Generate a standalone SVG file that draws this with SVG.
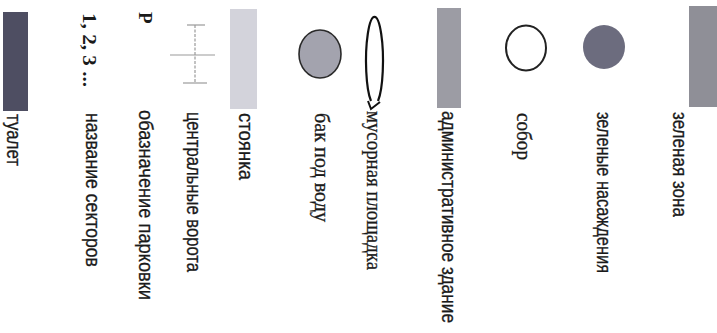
<svg xmlns="http://www.w3.org/2000/svg" width="717" height="333" viewBox="0 0 717 333">
<style>
.t{font-family:"Liberation Sans",Arial,sans-serif;font-size:20px;fill:#1a1a1a;stroke:#1a1a1a;stroke-width:0.3}
.s{font-family:"Liberation Serif","Times New Roman",serif;font-size:20px;fill:#1a1a1a;stroke:#1a1a1a;stroke-width:0.3}
.b{font-family:"Liberation Serif","Times New Roman",serif;font-size:19px;font-weight:bold;fill:#1a1a1a}
.ln{stroke:#9a9a9a;stroke-width:1.2;fill:none}
</style>
<rect width="717" height="333" fill="#ffffff"/>

<g id="green-zone">
<rect x="689" y="6" width="28" height="101" fill="#8f8f97"/>
<text class="t" transform="translate(673,112) rotate(90)" textLength="105" lengthAdjust="spacingAndGlyphs">зеленая зона</text>
</g>

<g id="green-plantings">
<ellipse cx="604" cy="47" rx="21" ry="22" fill="#6c6c7e"/>
<text class="t" transform="translate(597,112) rotate(90)" textLength="161" lengthAdjust="spacingAndGlyphs">зеленые насаждения</text>
</g>

<g id="cathedral">
<ellipse cx="526" cy="48" rx="20" ry="22.5" fill="#ffffff" stroke="#222" stroke-width="2"/>
<text class="s" transform="translate(517,113) rotate(90)" textLength="47" lengthAdjust="spacingAndGlyphs">собор</text>
</g>

<g id="admin-building">
<rect x="437" y="8" width="24" height="100" fill="#9c9ca4"/>
<text class="t" transform="translate(442,111) rotate(90)" textLength="212" lengthAdjust="spacingAndGlyphs">административное здание</text>
</g>

<g id="garbage-site">
<path d="M371,101 A8.5,44 0 1 1 378,101" fill="none" stroke="#111" stroke-width="2.2"/>
<polyline points="368,101 371,109 380,102" fill="none" stroke="#111" stroke-width="2"/>
<text class="s" transform="translate(367,111) rotate(90)" textLength="159" lengthAdjust="spacingAndGlyphs">мусорная площадка</text>
</g>

<g id="water-tank">
<ellipse cx="320" cy="54" rx="21" ry="24" fill="#a3a3ae" stroke="#2a2a2a" stroke-width="1.6"/>
<text class="s" transform="translate(315,113) rotate(90)" textLength="109" lengthAdjust="spacingAndGlyphs">бак под воду</text>
</g>

<g id="parking">
<rect x="230" y="9" width="27" height="100" fill="#d3d3db"/>
<text class="t" transform="translate(239,113) rotate(90)" textLength="67" lengthAdjust="spacingAndGlyphs">стоянка</text>
</g>

<g id="main-gate">
<line class="ln" x1="195" y1="25" x2="195" y2="83" stroke-dasharray="3 1.5"/>
<line class="ln" x1="187" y1="25" x2="205" y2="25"/>
<line class="ln" x1="170" y1="55" x2="215" y2="55"/>
<line class="ln" x1="183" y1="83" x2="207" y2="83"/>
<text class="t" transform="translate(187,112) rotate(90)" textLength="160" lengthAdjust="spacingAndGlyphs">центральные ворота</text>
</g>

<g id="parking-sign">
<text class="b" transform="translate(139,12) rotate(90)">Р</text>
<text class="t" transform="translate(139,110) rotate(90)" textLength="190" lengthAdjust="spacingAndGlyphs">обазначение парковки</text>
</g>

<g id="sector-names">
<text class="b" transform="translate(83,13) rotate(90)" textLength="74" lengthAdjust="spacingAndGlyphs">1, 2, 3 ...</text>
<text class="t" transform="translate(86,113) rotate(90)" textLength="154" lengthAdjust="spacingAndGlyphs">название секторов</text>
</g>

<g id="toilet">
<rect x="3" y="12" width="25" height="99" fill="#4e4e62"/>
<text class="t" transform="translate(7,114) rotate(90)" textLength="52" lengthAdjust="spacingAndGlyphs">туалет</text>
</g>

<g id="connectors"></g>
</svg>
